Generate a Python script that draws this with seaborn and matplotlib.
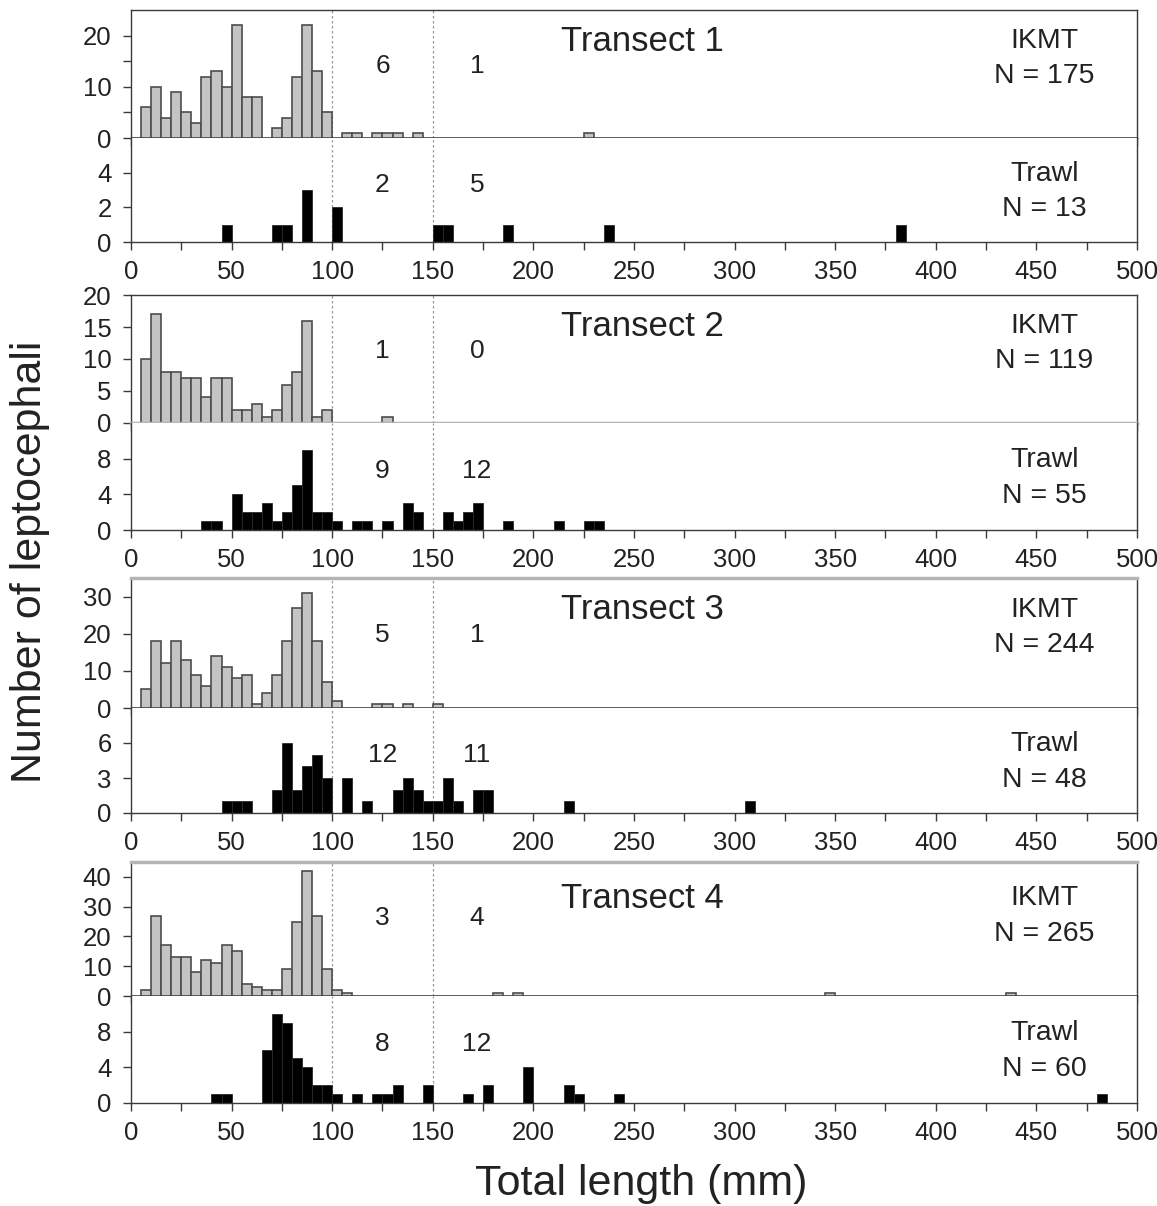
import numpy as np
import pandas as pd
import matplotlib
matplotlib.use("Agg")
import matplotlib.pyplot as plt
from matplotlib.ticker import MultipleLocator, FixedLocator
import seaborn as sns

# lower edge of each 5 mm length class (mm) and number of leptocephali in it
t1_ikmt_len = [5, 10, 15, 20, 25, 30, 35, 40, 45, 50, 55, 60, 70, 75, 80, 85, 90, 95,
               105, 110, 120, 125, 130, 140, 225]
t1_ikmt_n = [6, 10, 4, 9, 5, 3, 12, 13, 10, 22, 8, 8, 2, 4, 12, 22, 13, 5,
             1, 1, 1, 1, 1, 1, 1]
t1_trawl_len = [45, 70, 75, 85, 100, 150, 155, 185, 235, 380]
t1_trawl_n = [1, 1, 1, 3, 2, 1, 1, 1, 1, 1]

t2_ikmt_len = [5, 10, 15, 20, 25, 30, 35, 40, 45, 50, 55, 60, 65, 70, 75, 80, 85, 90, 95, 125]
t2_ikmt_n = [10, 17, 8, 8, 7, 7, 4, 7, 7, 2, 2, 3, 1, 2, 6, 8, 16, 1, 2, 1]
t2_trawl_len = [35, 40, 50, 55, 60, 65, 70, 75, 80, 85, 90, 95, 100, 110, 115, 125, 135, 140,
                155, 160, 165, 170, 185, 210, 225, 230]
t2_trawl_n = [1, 1, 4, 2, 2, 3, 1, 2, 5, 9, 2, 2, 1, 1, 1, 1, 3, 2,
              2, 1, 2, 3, 1, 1, 1, 1]

t3_ikmt_len = [5, 10, 15, 20, 25, 30, 35, 40, 45, 50, 55, 60, 65, 70, 75, 80, 85, 90, 95, 100,
               120, 125, 135, 150]
t3_ikmt_n = [5, 18, 12, 18, 13, 9, 6, 14, 11, 8, 9, 1, 4, 9, 18, 27, 31, 18, 7, 2,
             1, 1, 1, 1]
t3_trawl_len = [45, 50, 55, 70, 75, 80, 85, 90, 95, 105, 115, 130, 135, 140, 145,
                150, 155, 160, 170, 175, 215, 305]
t3_trawl_n = [1, 1, 1, 2, 6, 2, 4, 5, 3, 3, 1, 2, 3, 2, 1,
              1, 3, 1, 2, 2, 1, 1]

t4_ikmt_len = [5, 10, 15, 20, 25, 30, 35, 40, 45, 50, 55, 60, 65, 70, 75, 80, 85, 90, 95, 100,
               105, 180, 190, 345, 435]
t4_ikmt_n = [2, 27, 17, 13, 13, 8, 12, 11, 17, 15, 4, 3, 2, 2, 9, 25, 42, 27, 9, 2,
             1, 1, 1, 1, 1]
t4_trawl_len = [40, 45, 65, 70, 75, 80, 85, 90, 95, 100, 110, 120, 125, 130, 145,
                165, 175, 195, 215, 220, 240, 480]
t4_trawl_n = [1, 1, 6, 10, 9, 5, 4, 2, 2, 1, 1, 1, 1, 2, 2,
              1, 2, 4, 2, 1, 1, 1]

transect_names = ["Transect 1", "Transect 2", "Transect 3", "Transect 4"]

sns.set_style("ticks")
plt.rcParams['font.family'] = ['Liberation Sans', 'DejaVu Sans']

W, H = 1157, 1206
fig = plt.figure(figsize=(W / 100, H / 100), dpi=100)

x0, x1 = 131, 1137
# pixel rows: top of IKMT panel, IKMT baseline, trawl baseline
rows = [(10, 138, 242), (295, 423, 530), (578, 708, 813), (862, 996, 1103)]
ikmt_top = [25, 20, 35, 45]
ikmt_ticks = [[0, 10, 20], [0, 5, 10, 15, 20], [0, 10, 20, 30], [0, 10, 20, 30, 40]]
ikmt_minor = [[5, 15], [], [], []]
trawl_top = [6, 12, 9, 12]
trawl_ticks = [[0, 2, 4], [0, 4, 8], [0, 3, 6], [0, 4, 8]]

data = [
    ((t1_ikmt_len, t1_ikmt_n), (t1_trawl_len, t1_trawl_n)),
    ((t2_ikmt_len, t2_ikmt_n), (t2_trawl_len, t2_trawl_n)),
    ((t3_ikmt_len, t3_ikmt_n), (t3_trawl_len, t3_trawl_n)),
    ((t4_ikmt_len, t4_ikmt_n), (t4_trawl_len, t4_trawl_n)),
]

txt = '#222222'
spine_c = '#3a3a3a'


def box(top, bottom):
    return [x0 / W, 1 - bottom / H, (x1 - x0) / W, (bottom - top) / H]


def style_axis(ax, ymax, yt, ymin_t, show_x):
    ax.set_xlim(0, 500)
    ax.set_ylim(0, ymax)
    ax.xaxis.set_major_locator(MultipleLocator(50))
    ax.xaxis.set_minor_locator(MultipleLocator(25))
    ax.yaxis.set_major_locator(FixedLocator(yt))
    ax.yaxis.set_minor_locator(FixedLocator(ymin_t))
    ax.tick_params(axis='both', which='both', direction='out', length=6, width=1,
                   color=spine_c, labelsize=18.5, labelcolor=txt)
    ax.tick_params(axis='y', pad=8)
    ax.tick_params(axis='x', pad=7, labelbottom=show_x)
    for s in ax.spines.values():
        s.set_color(spine_c)
        s.set_linewidth(1)
        s.set_visible(True)
    ax.set_xlabel("")
    ax.set_ylabel("")
    for xv in (100, 150):
        ax.axvline(xv, color='#9a9a9a', lw=0.9, ls=(0, (2, 2)), zorder=0)


def class_counts(lengths, counts):
    lengths = np.asarray(lengths)
    counts = np.asarray(counts)
    mid = counts[(lengths >= 100) & (lengths < 150)].sum()
    big = counts[lengths >= 150].sum()
    return mid, big, counts.sum()


for i, ((ik_len, ik_n), (tr_len, tr_n)) in enumerate(data):
    top, mid_y, bot = rows[i]
    ax_i = fig.add_axes(box(top, mid_y))
    ax_t = fig.add_axes(box(mid_y, bot))

    df_i = pd.DataFrame({"length": np.asarray(ik_len) + 2.5, "n": ik_n})
    df_t = pd.DataFrame({"length": np.asarray(tr_len) + 2.5, "n": tr_n})
    sns.histplot(data=df_i, x="length", weights="n", binwidth=5, binrange=(0, 500),
                 ax=ax_i, color='#c4c4c4', edgecolor='#4d4d4d', linewidth=1.2, alpha=1)
    sns.histplot(data=df_t, x="length", weights="n", binwidth=5, binrange=(0, 500),
                 ax=ax_t, color='black', edgecolor='#2a2a2a', linewidth=0.6, alpha=1)

    style_axis(ax_i, ikmt_top[i], ikmt_ticks[i], ikmt_minor[i], False)
    style_axis(ax_t, trawl_top[i], trawl_ticks[i], [], True)
    ax_t.spines['top'].set_visible(False)

    if i >= 2:
        ax_i.spines['top'].set_color('#b5b5b5')
        ax_i.spines['top'].set_linewidth(2.5)
    if i == 1:
        ax_i.spines['bottom'].set_color('#b5b5b5')
        ax_i.spines['bottom'].set_linewidth(2.5)

    ym = 0.73 if i == 3 else 0.755
    ax_i.text(254, ym, transect_names[i], transform=ax_i.get_xaxis_transform(),
              ha='center', va='center', fontsize=25, color=txt)

    m1, b1, n1 = class_counts(ik_len, ik_n)
    m2, b2, n2 = class_counts(tr_len, tr_n)
    ty = 0.58 if i == 3 else 0.56
    for xv, val in ((125, m1), (172, b1)):
        ax_i.text(xv, ty, str(val), transform=ax_i.get_xaxis_transform(),
                  ha='center', va='center', fontsize=19, color=txt)
    for xv, val in ((125, m2), (172, b2)):
        ax_t.text(xv, 0.55, str(val), transform=ax_t.get_xaxis_transform(),
                  ha='center', va='center', fontsize=19, color=txt)

    iy = 0.73 if i == 3 else 0.754
    ax_i.text(454, iy, "IKMT", transform=ax_i.get_xaxis_transform(),
              ha='center', va='center', fontsize=20.5, color=txt)
    ax_i.text(454, iy - 0.27, f"N = {n1}", transform=ax_i.get_xaxis_transform(),
              ha='center', va='center', fontsize=20.5, color=txt)
    ax_t.text(454, 0.655, "Trawl", transform=ax_t.get_xaxis_transform(),
              ha='center', va='center', fontsize=20.5, color=txt)
    ax_t.text(454, 0.317, f"N = {n2}", transform=ax_t.get_xaxis_transform(),
              ha='center', va='center', fontsize=20.5, color=txt)

fig.text(641 / W, 1 - 1195 / H, "Total length (mm)", ha='center', va='baseline',
         fontsize=31, color=txt)
fig.text(30 / W, 1 - 562 / H, "Number of leptocephali", ha='center', va='center',
         rotation=90, fontsize=31, color=txt)

fig.savefig("out.png", dpi=100)
